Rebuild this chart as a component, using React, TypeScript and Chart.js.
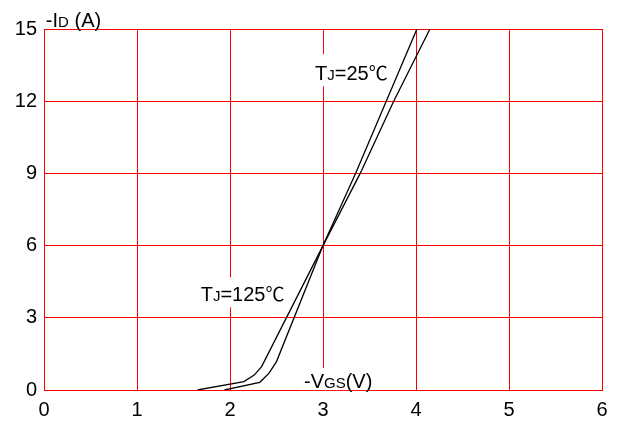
import React, { useEffect, useRef } from "react";
import { Chart, registerables } from "chart.js";

Chart.register(...registerables);

// 125 °C curve (-VGS in V, -ID in A)
const vgs125 = [1.65, 2.15, 2.26, 2.34, 3.0, 3.4, 3.76, 4.15];
const id125 = [0, 0.35, 0.62, 0.97, 6, 9, 12, 15];
// 25 °C curve
const vgs25 = [1.94, 2.32, 2.42, 2.5, 3.0, 3.35, 3.68, 4.01];
const id25 = [0, 0.32, 0.7, 1.18, 6, 9, 12, 15];

const xTicks = [0, 1, 2, 3, 4, 5, 6];
const yTicks = [0, 3, 6, 9, 12, 15];

const FONT = "'Liberation Sans', Arial, 'Noto Sans CJK SC', sans-serif";
const CJK = "'Noto Sans CJK SC', 'Liberation Sans', sans-serif";

type Part = { t: string; s: number; f?: string };
type Label = { x: number; y: number; parts: Part[]; box: [number, number, number, number] };

// labels anchored in data units (x, baseline y); box = [left, right, top, bottom] offsets in px
const labels: Label[] = [
  { x: 0.02, y: 15.1, parts: [{ t: "-I", s: 20 }, { t: "D", s: 15 }, { t: " (A)", s: 20 }], box: [0, 0, 0, 0] },
  { x: 2.796, y: 0.08, parts: [{ t: "-V", s: 20 }, { t: "GS", s: 15 }, { t: "(V)", s: 20 }], box: [4, 4, 20, 2] },
  { x: 1.685, y: 3.68, parts: [{ t: "T", s: 20 }, { t: "J", s: 15 }, { t: "=125", s: 20 }, { t: "℃", s: 19, f: CJK }], box: [3, 3, 24, 6] },
  { x: 2.914, y: 12.875, parts: [{ t: "T", s: 20 }, { t: "J", s: 15 }, { t: "=25", s: 20 }, { t: "℃", s: 19, f: CJK }], box: [3, 3, 26, 6] },
];

function measure(ctx: CanvasRenderingContext2D, parts: Part[]) {
  let w = 0;
  for (const p of parts) {
    ctx.font = `${p.s}px ${p.f || FONT}`;
    w += ctx.measureText(p.t).width;
  }
  return w;
}

const labelPlugin = {
  id: "labelPlugin",
  beforeDatasetsDraw(chart: any) {
    const ctx = chart.ctx as CanvasRenderingContext2D;
    const xs = chart.scales.x;
    const ys = chart.scales.y;
    ctx.save();
    ctx.fillStyle = "#ffffff";
    for (const l of labels) {
      if (!l.box[2]) continue;
      const px = xs.getPixelForValue(l.x);
      const py = ys.getPixelForValue(l.y);
      const w = measure(ctx, l.parts);
      ctx.fillRect(px - l.box[0], py - l.box[2], w + l.box[0] + l.box[1], l.box[2] + l.box[3]);
    }
    ctx.restore();
  },
  afterDatasetsDraw(chart: any) {
    const ctx = chart.ctx as CanvasRenderingContext2D;
    const xs = chart.scales.x;
    const ys = chart.scales.y;
    ctx.save();
    ctx.fillStyle = "#000000";
    ctx.textBaseline = "alphabetic";
    ctx.textAlign = "left";
    for (const l of labels) {
      let px = xs.getPixelForValue(l.x);
      const py = ys.getPixelForValue(l.y);
      for (const p of l.parts) {
        ctx.font = `${p.s}px ${p.f || FONT}`;
        ctx.fillText(p.t, px, py);
        px += ctx.measureText(p.t).width;
      }
    }
    ctx.restore();
  },
};

function zeroPad(scale: any) {
  scale.paddingTop = 0;
  scale.paddingBottom = 0;
  scale.paddingLeft = 0;
  scale.paddingRight = 0;
}

export default function App() {
  const ref = useRef<HTMLCanvasElement | null>(null);

  useEffect(() => {
    document.body.style.margin = "0";
    const canvas = ref.current;
    if (!canvas) return;
    const chart = new Chart(canvas, {
      type: "scatter",
      data: {
        datasets: [
          {
            label: "TJ=125℃",
            data: vgs125.map((v, i) => ({ x: v, y: id125[i] })),
            showLine: true,
            borderColor: "#000000",
            borderWidth: 1.3,
            pointRadius: 0,
            tension: 0,
          },
          {
            label: "TJ=25℃",
            data: vgs25.map((v, i) => ({ x: v, y: id25[i] })),
            showLine: true,
            borderColor: "#000000",
            borderWidth: 1.3,
            pointRadius: 0,
            tension: 0,
          },
        ],
      },
      options: {
        responsive: false,
        animation: false,
        layout: { padding: { top: 29, right: 15, left: 0, bottom: 0 } },
        plugins: { legend: { display: false }, tooltip: { enabled: false } },
        scales: {
          x: {
            type: "linear",
            min: xTicks[0],
            max: xTicks[xTicks.length - 1],
            afterBuildTicks: (s: any) => {
              s.ticks = xTicks.map((v) => ({ value: v }));
            },
            afterFit: (s: any) => {
              s.height = 33;
              zeroPad(s);
            },
            ticks: {
              color: "#000000",
              font: { family: FONT, size: 20 },
              padding: 8,
              maxRotation: 0,
            },
            grid: { color: "#ff0000", lineWidth: 1, drawTicks: false },
            border: { color: "#ff0000", width: 1 },
          },
          y: {
            type: "linear",
            min: yTicks[0],
            max: yTicks[yTicks.length - 1],
            afterBuildTicks: (s: any) => {
              s.ticks = yTicks.map((v) => ({ value: v }));
            },
            afterFit: (s: any) => {
              s.width = 44;
              zeroPad(s);
            },
            ticks: {
              color: "#000000",
              font: { family: FONT, size: 20 },
              padding: 7,
            },
            grid: { color: "#ff0000", lineWidth: 1, drawTicks: false },
            border: { color: "#ff0000", width: 1 },
          },
        },
      },
      plugins: [labelPlugin],
    });
    return () => chart.destroy();
  }, []);

  return <canvas ref={ref} width={617} height={423} style={{ display: "block" }} />;
}
